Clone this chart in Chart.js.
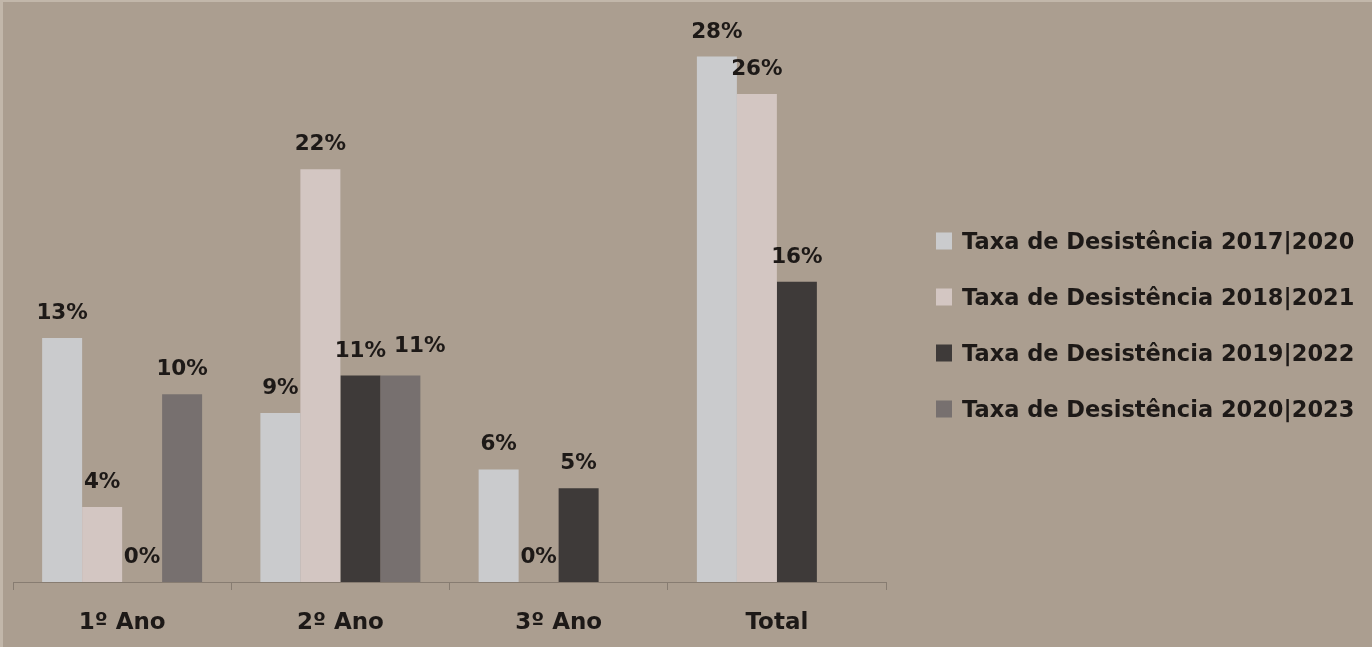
<!DOCTYPE html>
<html>
<head>
<meta charset="utf-8">
<script src="https://cdn.jsdelivr.net/npm/chart.js@4.4.1/dist/chart.umd.min.js"></script>
<style>
  html, body { margin: 0; padding: 0; background: #ab9e90; }
  #wrap { position: relative; width: 1372px; height: 647px; overflow: hidden; }
  #frame {
    position: absolute; left: 0; top: 0; right: 0; bottom: 0;
    border-top: 2px solid #c2b7aa; border-left: 3px solid #c2b7aa;
    box-sizing: border-box; pointer-events: none;
  }
</style>
</head>
<body>
<div id="wrap">
  <canvas id="chart" width="1372" height="647"></canvas>
  <div id="frame"></div>
</div>
<script>
// Categories along the x axis
const categories = ['1º Ano', '2º Ano', '3º Ano', 'Total'];

// Series names (legend)
const seriesNames = [
  'Taxa de Desistência 2017|2020',
  'Taxa de Desistência 2018|2021',
  'Taxa de Desistência 2019|2022',
  'Taxa de Desistência 2020|2023'
];

// Dropout rates in percent, one array per cohort
const rate2017_2020 = [13, 9, 6, 28];
const rate2018_2021 = [4, 22, 0, 26];
const rate2019_2022 = [0, 11, 5, 16];
const rate2020_2023 = [10, 11, null, null];

const seriesColors = ['#cacbcd', '#d3c6c2', '#3e3a39', '#77706f'];
const textColor = '#1d1917';
const axisColor = '#877c71';
const fontFamily = '"DejaVu Sans", Verdana, sans-serif';

const seriesValues = [rate2017_2020, rate2018_2021, rate2019_2022, rate2020_2023];

// Percentage labels above each bar; a label that would collide with the
// previous one in the same category is nudged to the right.
const valueLabels = {
  id: 'valueLabels',
  afterDatasetsDraw(chart) {
    const ctx = chart.ctx;
    const labelGap = 19;
    const textH = 16;
    ctx.save();
    ctx.font = 'bold 21.5px ' + fontFamily;
    ctx.fillStyle = textColor;
    ctx.textAlign = 'left';
    ctx.textBaseline = 'alphabetic';
    const placed = categories.map(() => []);
    chart.data.datasets.forEach((ds, i) => {
      const meta = chart.getDatasetMeta(i);
      meta.data.forEach((bar, j) => {
        const v = ds.data[j];
        if (v === null || v === undefined) return;
        const text = v + '%';
        const w = ctx.measureText(text).width;
        let left = bar.x - w / 2;
        let base = bar.y - labelGap;
        placed[j].forEach(p => {
          const vOverlap = Math.abs(p.base - base) < textH;
          if (vOverlap && left < p.right + 8) {
            left = p.right + 8;
            base -= 5;
          }
        });
        ctx.fillText(text, left, base);
        placed[j].push({ right: left + w, base });
      });
    });
    ctx.restore();
  }
};

// Legend drawn to the right of the plot
const sideLegend = {
  id: 'sideLegend',
  afterDraw(chart) {
    const ctx = chart.ctx;
    const area = chart.chartArea;
    const boxLeft = area.right + 50;
    const boxW = 16, boxH = 17;
    const rowGap = 56;
    const firstCenter = 241;
    ctx.save();
    ctx.font = 'bold 22.5px ' + fontFamily;
    ctx.textAlign = 'left';
    ctx.textBaseline = 'alphabetic';
    chart.data.datasets.forEach((ds, i) => {
      const cy = firstCenter + i * rowGap;
      ctx.fillStyle = ds.backgroundColor;
      ctx.fillRect(boxLeft, cy - boxH / 2, boxW, boxH);
      ctx.fillStyle = textColor;
      ctx.fillText(ds.label, boxLeft + boxW + 10, cy + 8);
    });
    ctx.restore();
  }
};

new Chart(document.getElementById('chart'), {
  type: 'bar',
  data: {
    labels: categories,
    datasets: seriesNames.map((name, i) => ({
      label: name,
      data: seriesValues[i],
      backgroundColor: seriesColors[i],
      borderWidth: 0,
      barPercentage: 1.0,
      categoryPercentage: 0.733
    }))
  },
  options: {
    responsive: false,
    animation: false,
    devicePixelRatio: 1,
    layout: { padding: { left: 13, right: 486, top: 19, bottom: -10 } },
    plugins: {
      legend: { display: false },
      tooltip: { enabled: false }
    },
    scales: {
      x: {
        grid: {
          display: true,
          drawOnChartArea: false,
          drawTicks: true,
          tickLength: 8,
          color: axisColor,
          lineWidth: 1,
          offset: true
        },
        border: { display: true, color: axisColor, width: 1 },
        ticks: {
          color: textColor,
          padding: 28,
          font: { family: fontFamily, weight: 'bold', size: 23, lineHeight: '11px' }
        }
      },
      y: {
        display: false,
        min: 0,
        max: 30
      }
    }
  },
  plugins: [valueLabels, sideLegend]
});
</script>
</body>
</html>
